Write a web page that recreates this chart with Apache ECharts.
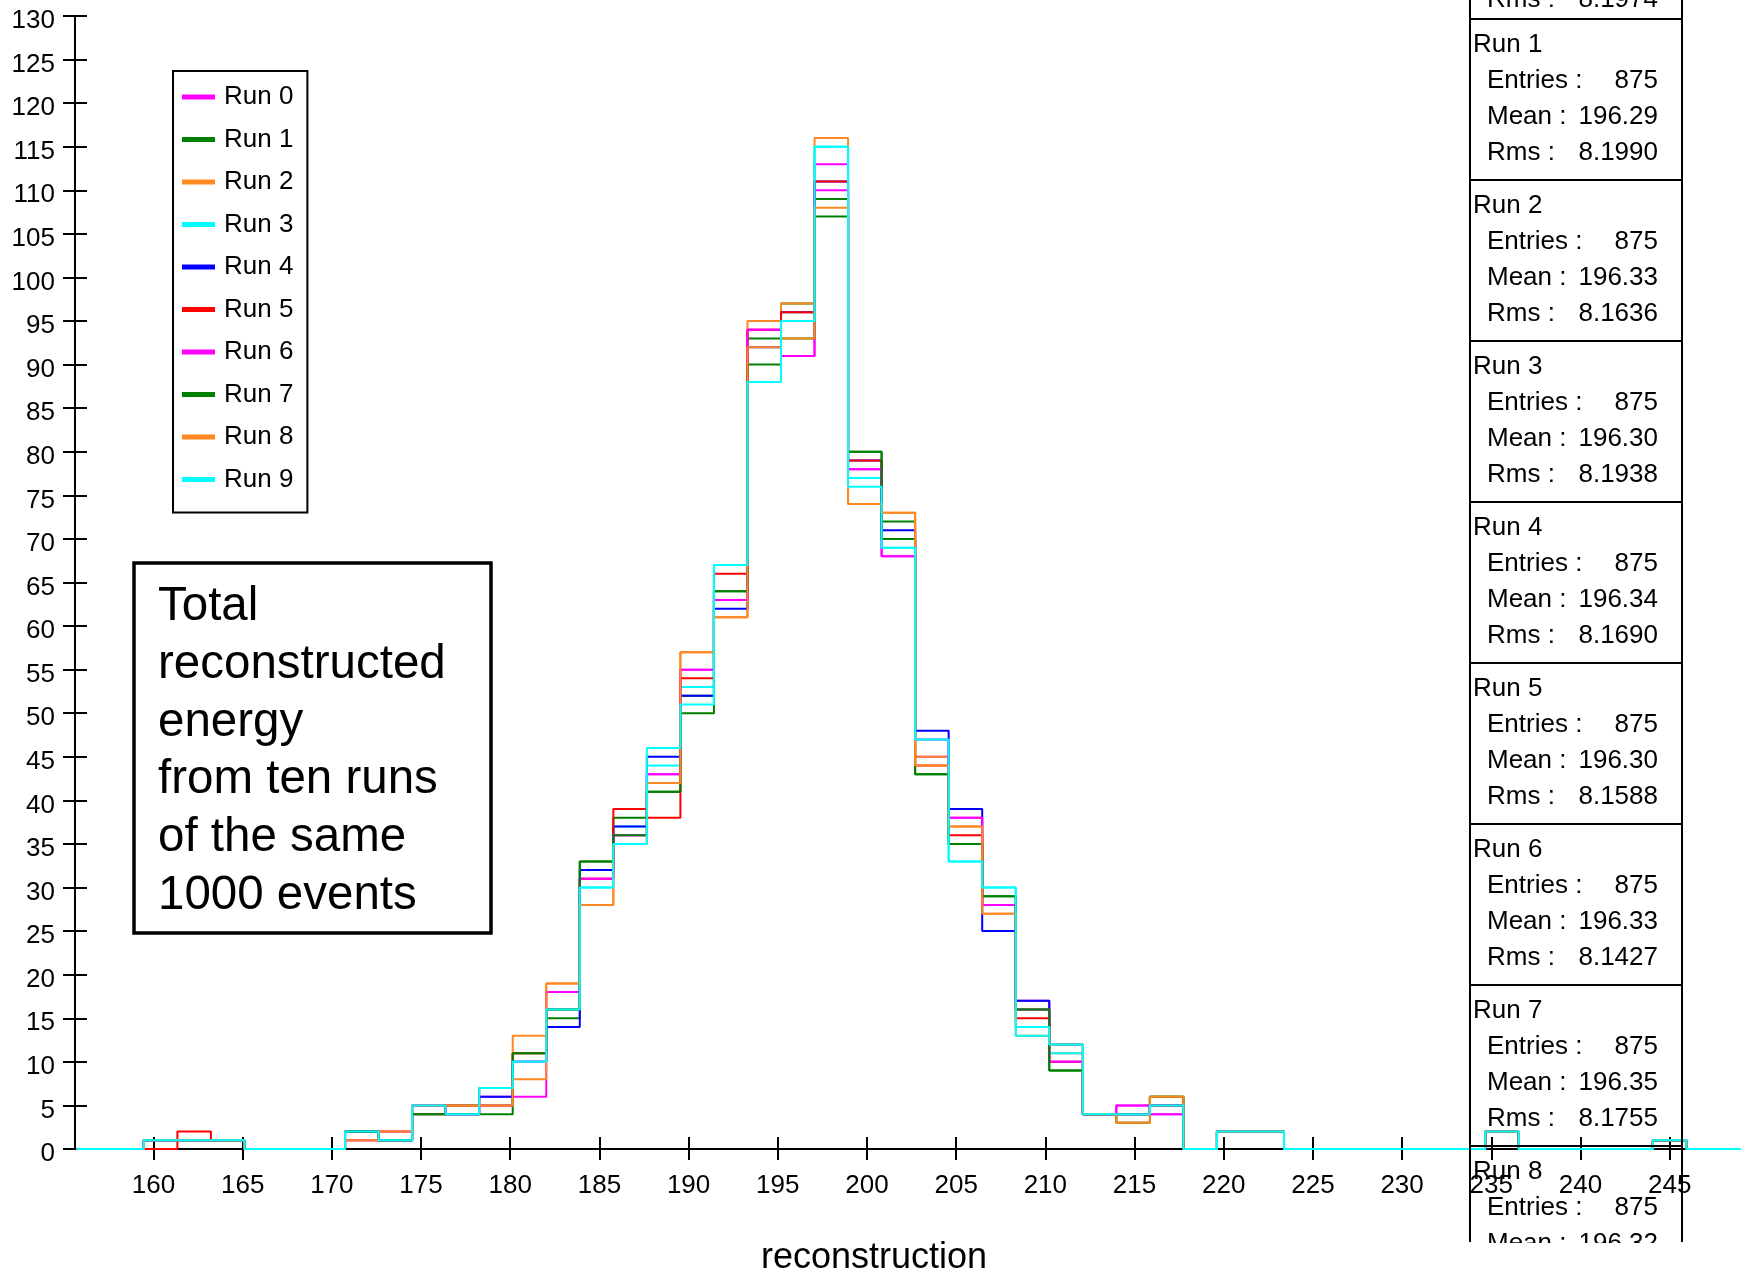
<!DOCTYPE html>
<html>
<head>
<meta charset="utf-8">
<script src="https://cdn.jsdelivr.net/npm/echarts@6/dist/echarts.min.js"></script>
<style>
html,body{margin:0;padding:0;background:#fff;}
#chart{width:1741px;height:1274px;}
</style>
</head>
<body>
<div id="chart"></div>
<script>
// ---- histogram definition ----
const binLow = 155.7;
const binWidth = 1.88;
const binCount = 50;

// ---- series (counts per bin, 50 bins) ----
const runNames = ['Run 0','Run 1','Run 2','Run 3','Run 4','Run 5','Run 6','Run 7','Run 8','Run 9'];
const runColors = ['#ff00ff','#008000','#ff8822','#00ffff','#0000ff','#ff0000','#ff00ff','#008000','#ff8822','#00ffff'];

const run0 = [0,0,1,1,1,0,0,0,1,1,5,4,6,6,18,31,36,43,55,63,94,91,113,78,68,45,38,28,17,10,4,5,4,0,2,2,0,0,0,0,0,0,2,0,0,0,0,1,0,0];
const run1 = [0,0,1,1,1,0,0,0,2,1,5,5,5,11,15,33,38,41,52,64,93,97,109,80,72,43,35,29,16,9,4,4,6,0,2,2,0,0,0,0,0,0,2,0,0,0,0,1,0,0];
const run2 = [0,0,1,1,1,0,0,0,1,2,5,5,5,13,19,28,35,42,57,61,95,97,116,74,73,45,37,27,13,11,4,3,6,0,2,2,0,0,0,0,0,0,2,0,0,0,0,1,0,0];
const run3 = [0,0,1,1,1,0,0,0,2,1,4,5,7,10,16,30,37,44,53,67,88,95,115,77,69,47,33,30,13,11,4,4,5,0,2,2,0,0,0,0,0,0,2,0,0,0,0,1,0,0];
const run4 = [0,0,1,1,1,0,0,0,2,1,5,4,6,10,14,32,37,45,52,62,92,96,111,79,71,48,39,25,17,12,4,4,5,0,2,2,0,0,0,0,0,0,2,0,0,0,0,1,0,0];
const run5 = [0,0,0,2,1,0,0,0,2,1,4,5,7,11,16,31,39,38,54,66,94,96,111,79,70,44,36,28,15,10,4,4,5,0,2,2,0,0,0,0,0,0,2,0,0,0,0,1,0,0];
const run6 = [0,0,1,1,1,0,0,0,1,2,5,4,5,10,18,31,36,43,55,63,94,91,110,78,68,47,38,28,16,10,4,5,4,0,2,2,0,0,0,0,0,0,2,0,0,0,0,1,0,0];
const run7 = [0,0,1,1,1,0,0,0,2,1,4,4,4,11,16,33,36,41,50,64,90,93,107,80,70,43,35,29,16,9,4,3,6,0,2,2,0,0,0,0,0,0,2,0,0,0,0,1,0,0];
const run8 = [0,0,1,1,1,0,0,0,1,2,5,5,5,8,19,28,35,42,57,61,92,93,108,74,73,44,37,27,14,12,4,3,6,0,2,2,0,0,0,0,0,0,2,0,0,0,0,1,0,0];
const run9 = [0,0,1,1,1,0,0,0,2,1,5,4,7,10,16,30,35,46,51,67,88,95,115,76,69,47,33,30,14,12,4,4,5,0,2,2,0,0,0,0,0,0,2,0,0,0,0,1,0,0];
const runs = [run0,run1,run2,run3,run4,run5,run6,run7,run8,run9];

// ---- axes ----
const xTicks = [160,165,170,175,180,185,190,195,200,205,210,215,220,225,230,235,240,245];
const xMin = 155.6, xMax = 249.0;
const yMin = 0, yMax = 130, yStep = 5;

// ---- statistics boxes ----
const statRuns    = ['Run 1','Run 2','Run 3','Run 4','Run 5','Run 6','Run 7','Run 8'];
const statEntries = ['875','875','875','875','875','875','875','875'];
const statMeans   = ['196.29','196.33','196.30','196.34','196.30','196.33','196.35','196.32'];
const statRms     = ['8.1990','8.1636','8.1938','8.1690','8.1588','8.1427','8.1755',''];
const run0Rms = '8.1974';

const noteLines = ['Total','reconstructed','energy','from ten runs','of the same','1000 events'];

const FONT = '"Liberation Sans", Arial, Helvetica, sans-serif';

function stepData(values){
  const d = [];
  for (let k = 0; k < binCount; k++) d.push([binLow + k*binWidth, values[k]]);
  d.push([binLow + binCount*binWidth, values[binCount-1]]);
  return d;
}

const series = runs.map((v,i) => ({
  name: runNames[i],
  type: 'line',
  step: 'end',
  data: stepData(v),
  showSymbol: false,
  symbol: 'none',
  color: runColors[i],
  itemStyle: {color: runColors[i]},
  lineStyle: {color: runColors[i], width: 2},
  emphasis: {disabled: true},
  animation: false,
  z: 2 + i*0.01,
  xAxisIndex: 0, yAxisIndex: 0
}));

// ---- graphics: note box, stats boxes, axis title ----
const graphics = [];
graphics.push({type:'rect', shape:{x:134, y:563, width:357, height:370},
  style:{fill:'none', stroke:'#000', lineWidth:3.5}, z:10});
noteLines.forEach((t,i) => {
  graphics.push({type:'text', x:158, y:607 + i*57.8,
    style:{text:t, fill:'#000', font:'47.5px ' + FONT, verticalAlign:'middle', align:'left'}, z:10});
});

const boxL = 1470, boxR = 1682, boxH = 161, firstTop = 19;
// Run 0 box (mostly above the picture)
graphics.push({type:'polyline', shape:{points:[[boxL,-5],[boxL,firstTop],[boxR,firstTop],[boxR,-5]]},
  style:{stroke:'#000', lineWidth:2, fill:'none'}, z:10});
graphics.push({type:'text', x:1487, y:0, style:{text:'Rms :', fill:'#000', font:'26px ' + FONT, verticalAlign:'middle', align:'left'}, z:10});
graphics.push({type:'text', x:1658, y:0, style:{text:run0Rms, fill:'#000', font:'26px ' + FONT, verticalAlign:'middle', align:'right'}, z:10});

statRuns.forEach((r,i) => {
  const T = firstTop + i*boxH;
  const bottom = Math.min(T + boxH, 1242);
  const pts = (T + boxH > 1242) ? [[boxL,bottom],[boxL,T],[boxR,T],[boxR,bottom]]
                                : [[boxL,T],[boxR,T],[boxR,T+boxH],[boxL,T+boxH],[boxL,T]];
  graphics.push({type:'polyline', shape:{points:pts}, style:{stroke:'#000', lineWidth:2, fill:'none'}, z:10});
  graphics.push({type:'text', x:1473, y:T+26, style:{text:r, fill:'#000', font:'26px ' + FONT, verticalAlign:'middle', align:'left'}, z:10});
  const rows = [['Entries :', statEntries[i], 62], ['Mean :', statMeans[i], 98], ['Rms :', statRms[i], 134]];
  rows.forEach(row => {
    if (row[1] === '') return;
    graphics.push({type:'text', x:1487, y:T+row[2], style:{text:row[0], fill:'#000', font:'26px ' + FONT, verticalAlign:'middle', align:'left'}, z:10});
    graphics.push({type:'text', x:1658, y:T+row[2], style:{text:row[1], fill:'#000', font:'26px ' + FONT, verticalAlign:'middle', align:'right'}, z:10});
  });
});
// clipping of the lowest stats box
graphics.push({type:'rect', shape:{x:1455, y:1243, width:286, height:40}, style:{fill:'#fff', stroke:'none'}, z:20});

graphics.push({type:'text', x:874, y:1258, style:{text:'reconstruction', fill:'#000', font:'36px ' + FONT, verticalAlign:'middle', align:'center'}, z:10});

const axisBlack = {color:'#000', width:2};

const option = {
  backgroundColor: '#fff',
  animation: false,
  textStyle: {fontFamily: FONT},
  grid: {left:75, top:16, right:0, bottom:125, containLabel:false},
  legend: {
    data: runNames,
    orient: 'vertical',
    left: 173, top: 71,
    padding: [11, 14, 18, 9],
    itemWidth: 33, itemHeight: 5, itemGap: 12.5,
    icon: 'rect',
    borderColor: '#000', borderWidth: 2,
    backgroundColor: '#fff',
    selectedMode: false,
    textStyle: {fontSize: 26, color: '#000', lineHeight: 30, fontFamily: FONT, padding: [0,0,0,4]}
  },
  xAxis: [
    {type:'value', min:xMin, max:xMax, position:'bottom',
     axisLine:{show:true, lineStyle:axisBlack},
     axisTick:{show:true, inside:false, length:11, customValues:xTicks, lineStyle:axisBlack},
     axisLabel:{show:true, customValues:xTicks, fontSize:26, color:'#000', margin:24, fontFamily:FONT},
     splitLine:{show:false}},
    {type:'value', min:xMin, max:xMax, position:'bottom',
     axisLine:{show:false},
     axisTick:{show:true, inside:true, length:12, customValues:xTicks, lineStyle:axisBlack},
     axisLabel:{show:false},
     splitLine:{show:false}}
  ],
  yAxis: [
    {type:'value', min:yMin, max:yMax, interval:yStep, position:'left',
     axisLine:{show:true, lineStyle:axisBlack},
     axisTick:{show:true, inside:false, length:12, lineStyle:axisBlack},
     axisLabel:{show:true, fontSize:26, color:'#000', margin:20, fontFamily:FONT, verticalAlign:'top', lineHeight:10},
     splitLine:{show:false}},
    {type:'value', min:yMin, max:yMax, interval:yStep, position:'left',
     axisLine:{show:false},
     axisTick:{show:true, inside:true, length:12, lineStyle:axisBlack},
     axisLabel:{show:false},
     splitLine:{show:false}}
  ],
  series: series,
  graphic: graphics
};

const chart = echarts.init(document.getElementById('chart'), null, {renderer:'canvas'});
chart.setOption(option);
</script>
</body>
</html>
